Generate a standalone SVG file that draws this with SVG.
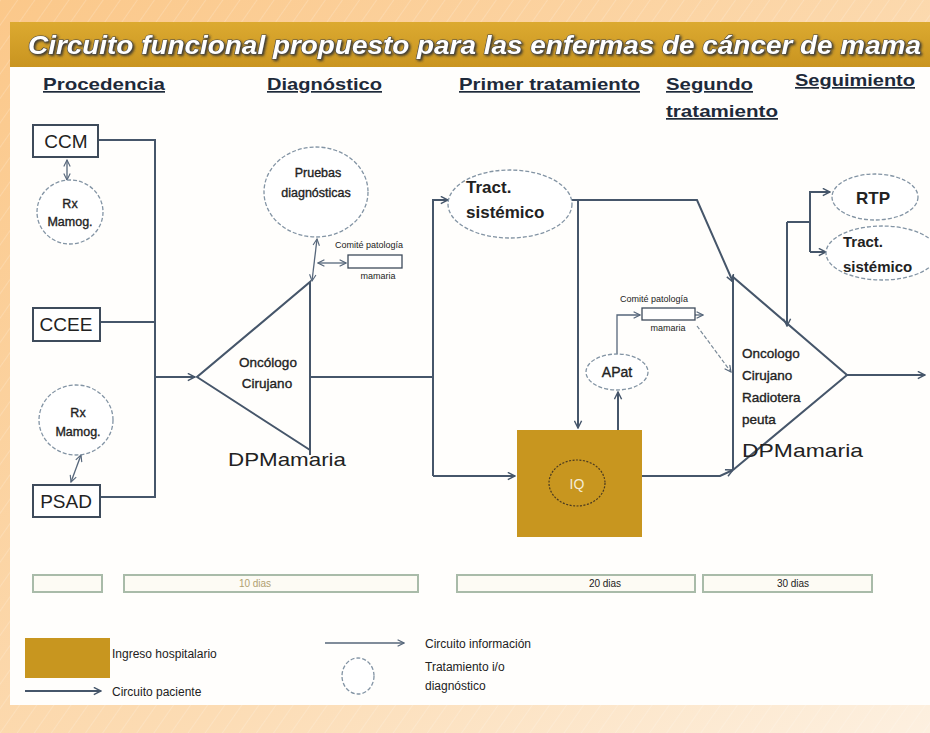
<svg xmlns="http://www.w3.org/2000/svg" width="930" height="733" viewBox="0 0 930 733">
<defs>
<linearGradient id="bg" x1="0" y1="0" x2="1" y2="1">
<stop offset="0" stop-color="#fbc88a"/>
<stop offset="0.6" stop-color="#fcdcb4"/>
<stop offset="1" stop-color="#fdf0e0"/>
</linearGradient>
<linearGradient id="bar" x1="0" y1="0" x2="0" y2="1">
<stop offset="0" stop-color="#dcaa30"/>
<stop offset="1" stop-color="#c99420"/>
</linearGradient>
<pattern id="stripes" width="14" height="14" patternUnits="userSpaceOnUse" patternTransform="rotate(35)">
<line x1="0" y1="0" x2="0" y2="14" stroke="#ffffff" stroke-opacity="0.35" stroke-width="1"/>
</pattern>
<filter id="sh" x="-5%" y="-30%" width="110%" height="160%">
<feDropShadow dx="1.5" dy="1.5" stdDeviation="0.8" flood-color="#333333" flood-opacity="0.9"/>
</filter>
<marker id="ar" viewBox="0 0 10 10" refX="9" refY="5" markerWidth="9" markerHeight="9" markerUnits="userSpaceOnUse" orient="auto-start-reverse">
<path d="M1,1 L9,5 L1,9" fill="none" stroke="#46566a" stroke-width="1.6"/>
</marker>
<marker id="ai" viewBox="0 0 10 10" refX="9" refY="5" markerWidth="8" markerHeight="8" markerUnits="userSpaceOnUse" orient="auto-start-reverse">
<path d="M1,1 L9,5 L1,9" fill="none" stroke="#56667a" stroke-width="1.4"/>
</marker>
<style>
.ln{stroke:#46566a;stroke-width:2;fill:none}
.in{stroke:#56667a;stroke-width:1.3;fill:none}
.dsh{stroke:#7a8a98;stroke-width:1.2;fill:none;stroke-dasharray:4 2}
.ell{fill:#ffffff;stroke:#8394a4;stroke-width:1.3;stroke-dasharray:4 2}
.box{fill:#ffffff;stroke:#3e4b5b;stroke-width:2}
.cp{fill:#ffffff;stroke:#3e4b5b;stroke-width:1.3}
.t{font-family:"Liberation Sans",Arial,sans-serif;fill:#222222}
.m{stroke:#222222;stroke-width:0.35}
.h{font-family:"Liberation Sans Narrow","Liberation Sans",Arial,sans-serif;font-weight:bold;font-size:17px;fill:#1e2a3a;text-decoration:underline}
.b{font-weight:bold}
.tb{fill:#fdfbf4;stroke:#a9bba9;stroke-width:2}
</style>
</defs>
<rect width="930" height="733" fill="url(#bg)"/>
<rect width="930" height="733" fill="url(#stripes)"/>
<rect x="10" y="67" width="920" height="638" fill="#fffefc"/>
<rect x="10" y="22" width="920" height="45" fill="url(#bar)"/>
<g id="title">
<text x="28" y="54" class="t" font-size="25" font-style="italic" font-weight="bold" textLength="893" lengthAdjust="spacingAndGlyphs" filter="url(#sh)" style="fill:#ffffff;stroke:#4a4a4a;stroke-width:1.1;paint-order:stroke">Circuito funcional propuesto para las enfermas de cáncer de mama</text>
</g>
<g id="headers">
<text x="43" y="90" class="h" textLength="122" lengthAdjust="spacingAndGlyphs">Procedencia</text>
<text x="267" y="90" class="h" textLength="115" lengthAdjust="spacingAndGlyphs">Diagnóstico</text>
<text x="459" y="90" class="h" textLength="181" lengthAdjust="spacingAndGlyphs">Primer tratamiento</text>
<text x="666" y="90" class="h" textLength="87" lengthAdjust="spacingAndGlyphs">Segundo</text>
<text x="666" y="117" class="h" textLength="112" lengthAdjust="spacingAndGlyphs">tratamiento</text>
<text x="795" y="86" class="h" textLength="120" lengthAdjust="spacingAndGlyphs">Seguimiento</text>
</g>
<g id="connectors">
<path class="ln" d="M98,140 H155 V497 H100"/>
<path class="ln" d="M100,322 H155"/>
<path class="ln" d="M155,377 H195" marker-end="url(#ar)"/>
<path class="ln" d="M310,377 H433"/>
<path class="ln" d="M433,476 V200 H448" marker-end="url(#ar)"/>
<path class="ln" d="M433,476 H515" marker-end="url(#ar)"/>
<path class="ln" d="M572,200 H697 L733,282" marker-end="url(#ar)"/>
<path class="ln" d="M578,200 V428" marker-end="url(#ar)"/>
<path class="ln" d="M642,476 H720 L733,470" marker-end="url(#ar)"/>
<path class="ln" d="M847,375 H925" marker-end="url(#ar)"/>
<path class="ln" d="M787,222 V326" marker-end="url(#ar)"/>
<path class="ln" d="M787,222 H810"/>
<path class="ln" d="M810,252 V192 H830" marker-end="url(#ar)"/>
<path class="ln" d="M810,252 H826" marker-end="url(#ar)"/>
<path class="in" d="M67,160 V180" marker-start="url(#ai)" marker-end="url(#ai)"/>
<path class="in" d="M81,455 L71,482" marker-start="url(#ai)" marker-end="url(#ai)"/>
<path class="in" d="M317,239 L312,281" marker-start="url(#ai)" marker-end="url(#ai)"/>
<path class="in" d="M318,263 H346" marker-start="url(#ai)" marker-end="url(#ai)"/>
<path class="ln" d="M618,430 V392" marker-end="url(#ar)"/>
<path class="in" d="M617,355 V315 H640" marker-end="url(#ai)"/>
<path class="in" d="M695,315 H703" marker-end="url(#ai)"/>
<path class="dsh" d="M697,326 L731,372" marker-end="url(#ai)"/>
</g>
<g id="ccm">
<rect x="33" y="125" width="65" height="32" class="box"/>
<text x="66" y="148" class="t" font-size="19" text-anchor="middle">CCM</text>
</g>
<g id="rx1">
<ellipse cx="70" cy="212" rx="33" ry="32" class="ell"/>
<text x="70" y="208" class="t m" font-size="12.5" text-anchor="middle">Rx</text>
<text x="70" y="226" class="t m" font-size="12.5" text-anchor="middle">Mamog.</text>
</g>
<g id="ccee">
<rect x="33" y="308" width="67" height="33" class="box"/>
<text x="66" y="331" class="t" font-size="19" text-anchor="middle">CCEE</text>
</g>
<g id="rx2">
<ellipse cx="76" cy="420" rx="37" ry="35" class="ell"/>
<text x="78" y="417" class="t m" font-size="12.5" text-anchor="middle">Rx</text>
<text x="78" y="436" class="t m" font-size="12.5" text-anchor="middle">Mamog.</text>
</g>
<g id="psad">
<rect x="33" y="485" width="67" height="32" class="box"/>
<text x="66" y="508" class="t" font-size="19" text-anchor="middle">PSAD</text>
</g>
<g id="dp1">
<path class="ln" d="M310,455 V282 L197,377 L310,450"/>
<text x="268" y="367" class="t m" font-size="13.5" text-anchor="middle">Oncólogo</text>
<text x="267" y="388" class="t m" font-size="13.5" text-anchor="middle">Cirujano</text>
<text x="228" y="466" class="t" font-size="19" textLength="118" lengthAdjust="spacingAndGlyphs">DPMamaria</text>
</g>
<g id="pruebas">
<ellipse cx="316" cy="192" rx="52" ry="45" class="ell"/>
<text x="318" y="177" class="t m" font-size="12.5" text-anchor="middle">Pruebas</text>
<text x="316" y="197" class="t m" font-size="12.5" text-anchor="middle">diagnósticas</text>
</g>
<g id="comite1">
<rect x="348" y="255" width="54" height="13" class="cp"/>
<text x="335" y="248" class="t" font-size="9">Comité patología</text>
<text x="378" y="279" class="t" font-size="9" text-anchor="middle">mamaria</text>
</g>
<g id="tract1">
<ellipse cx="510" cy="204" rx="62" ry="34" class="ell"/>
<text x="466" y="193" class="t b" font-size="17">Tract.</text>
<text x="466" y="218" class="t b" font-size="17">sistémico</text>
</g>
<g id="iq">
<rect x="517" y="430" width="125" height="107" fill="#c8961f"/>
<ellipse cx="577" cy="483" rx="28" ry="23" fill="none" stroke="#4a3a20" stroke-width="1.2" stroke-dasharray="2 1.5"/>
<text x="577" y="489" class="t" font-size="14" text-anchor="middle" style="fill:#f4ecd6">IQ</text>
</g>
<g id="apat">
<ellipse cx="617" cy="372" rx="31" ry="18" class="ell"/>
<text x="617" y="377" class="t m" font-size="14" text-anchor="middle">APat</text>
</g>
<g id="comite2">
<rect x="642" y="308" width="53" height="12" class="cp"/>
<text x="620" y="302" class="t" font-size="9">Comité patología</text>
<text x="668" y="331" class="t" font-size="9" text-anchor="middle">mamaria</text>
</g>
<g id="dp2">
<path class="ln" d="M733,470 V277 L847,375 L733,470"/>
<text x="742" y="358" class="t m" font-size="13.5">Oncologo</text>
<text x="742" y="380" class="t m" font-size="13.5">Cirujano</text>
<text x="742" y="402" class="t m" font-size="13.5">Radiotera</text>
<text x="742" y="424" class="t m" font-size="13.5">peuta</text>
<text x="742" y="457" class="t" font-size="19" textLength="121" lengthAdjust="spacingAndGlyphs">DPMamaria</text>
</g>
<g id="rtp">
<ellipse cx="875" cy="197" rx="43" ry="23" class="ell"/>
<text x="873" y="204" class="t b" font-size="17" text-anchor="middle">RTP</text>
</g>
<g id="tract2">
<ellipse cx="882" cy="253" rx="56" ry="27" class="ell"/>
<text x="843" y="247" class="t b" font-size="15">Tract.</text>
<text x="843" y="272" class="t b" font-size="15">sistémico</text>
</g>
<g id="timeline">
<rect x="33" y="575" width="69" height="17" class="tb"/>
<rect x="124" y="575" width="294" height="17" class="tb"/>
<text x="255" y="587" class="t" font-size="10" text-anchor="middle" style="fill:#b0a070">10 dias</text>
<rect x="457" y="575" width="238" height="17" class="tb"/>
<text x="605" y="587" class="t" font-size="10" text-anchor="middle">20 dias</text>
<rect x="703" y="575" width="169" height="17" class="tb"/>
<text x="793" y="587" class="t" font-size="10" text-anchor="middle">30 dias</text>
</g>
<g id="legend">
<rect x="25" y="638" width="85" height="40" fill="#c8961f"/>
<text x="112" y="658" class="t" font-size="12">Ingreso hospitalario</text>
<path class="ln" d="M25,691 H101" marker-end="url(#ar)"/>
<text x="112" y="696" class="t" font-size="12">Circuito paciente</text>
<path class="in" d="M325,643 H404" marker-end="url(#ai)"/>
<text x="425" y="648" class="t" font-size="12">Circuito información</text>
<ellipse cx="358" cy="676" rx="16" ry="18" class="ell"/>
<text x="425" y="671" class="t" font-size="12">Tratamiento i/o</text>
<text x="425" y="690" class="t" font-size="12">diagnóstico</text>
</g>
</svg>
